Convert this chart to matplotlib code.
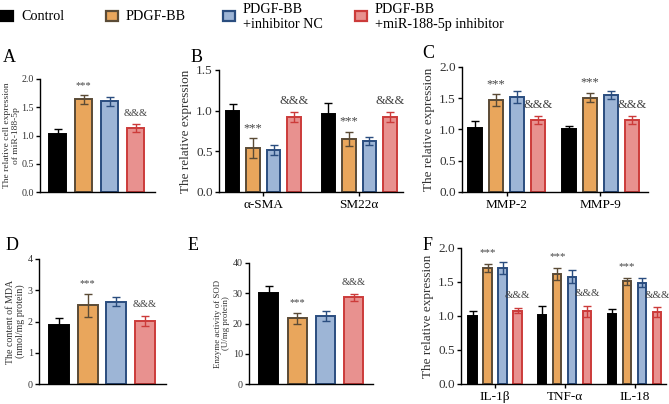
"""Six-panel bar chart: PDGF-BB / miR-188-5p inhibitor experiments."""

import matplotlib

matplotlib.use("Agg")
import matplotlib.pyplot as plt
from matplotlib.patches import Rectangle
import numpy as np

plt.rcParams["font.family"] = ["Liberation Serif", "DejaVu Serif"]

GROUPS = ["Control", "PDGF-BB", "PDGF-BB\n+inhibitor NC", "PDGF-BB\n+miR-188-5p inhibitor"]
FACE = ["#000000", "#E9A65C", "#9DB5D6", "#E8918F"]
EDGE = ["#000000", "#5B4B36", "#2A4D7F", "#CC3B3A"]

# panel A: miR-188-5p
A_MEAN = [[1.02, 1.64, 1.61, 1.14]]
A_ERR = [[0.10, 0.08, 0.08, 0.07]]

# panel B: alpha-SMA, SM22alpha
B_CATS = ["α-SMA", "SM22α"]
B_MEAN = [[1.00, 0.54, 0.52, 0.92], [0.96, 0.65, 0.63, 0.92]]
B_ERR = [[0.08, 0.12, 0.06, 0.06], [0.14, 0.09, 0.05, 0.06]]

# panel C: MMP-2, MMP-9
C_CATS = ["MMP-2", "MMP-9"]
C_MEAN = [[1.02, 1.47, 1.52, 1.15], [1.00, 1.51, 1.55, 1.15]]
C_ERR = [[0.11, 0.09, 0.09, 0.06], [0.06, 0.07, 0.06, 0.07]]

# panel D: MDA
D_MEAN = [[1.89, 2.52, 2.63, 2.02]]
D_ERR = [[0.21, 0.36, 0.14, 0.17]]

# panel E: SOD
E_MEAN = [[30.2, 21.8, 22.4, 28.6]]
E_ERR = [[2.2, 1.8, 1.7, 1.3]]

# panel F: IL-1beta, TNF-alpha, IL-18
F_CATS = ["IL-1β", "TNF-α", "IL-18"]
F_MEAN = [[1.00, 1.70, 1.71, 1.08], [1.01, 1.62, 1.58, 1.07], [1.03, 1.51, 1.49, 1.06]]
F_ERR = [[0.08, 0.06, 0.09, 0.04], [0.14, 0.09, 0.09, 0.08], [0.07, 0.05, 0.07, 0.07]]

TEXT_GREY = "#333333"


def draw_panel(fig, rect, means, errs, cats, ylim, yticks, ylabel, letter, letter_xy,
               width=0.65, gap=0.67, margins=(0.67, 0.7), tick_fs=7.5, label_fs=7.2,
               mark_fs=8, labelpad=3):
    ax = fig.add_axes(rect)
    means = np.asarray(means)
    errs = np.asarray(errs)
    n_groups, n_bars = means.shape
    step = n_bars + gap
    centers = []
    for g in range(n_groups):
        x = g * step + np.arange(n_bars)
        centers.append(x.mean())
        for i in range(n_bars):
            ax.errorbar(x[i], means[g, i], yerr=errs[g, i], fmt="none",
                        ecolor=EDGE[i], elinewidth=1.0, capsize=3, capthick=1.0, zorder=3)
            ax.bar(x[i], means[g, i], width=width, color=FACE[i], edgecolor=EDGE[i],
                   linewidth=1.4, zorder=2)
        off = 0.085 * ylim[1]
        ax.text(x[1], means[g, 1] + errs[g, 1] + off, "***", ha="center", va="center",
                fontsize=mark_fs, color="#444444")
        ax.text(x[3], means[g, 3] + errs[g, 3] + off * 1.05, "&&&", ha="center",
                va="center", fontsize=mark_fs, color="#444444")
    last = (n_groups - 1) * step + n_bars - 1
    ax.set_xlim(-margins[0], last + margins[1])
    ax.set_ylim(*ylim)
    ax.set_yticks(yticks)
    ax.spines["top"].set_visible(False)
    ax.spines["right"].set_visible(False)
    ax.spines["left"].set_linewidth(1.0)
    ax.spines["bottom"].set_linewidth(1.0)
    if cats:
        ax.set_xticks(centers)
        ax.set_xticklabels(cats, fontsize=tick_fs)
        ax.tick_params(axis="x", length=3, width=1.0, pad=2)
    else:
        ax.set_xticks([])
    ax.tick_params(axis="y", labelsize=tick_fs, length=3, width=1.0, pad=1.5,
                   labelcolor=TEXT_GREY)
    ax.set_ylabel(ylabel, fontsize=label_fs, color=TEXT_GREY, labelpad=labelpad,
                  linespacing=1.05)
    fig.text(letter_xy[0], letter_xy[1], letter, fontsize=13, ha="left", va="center")
    return ax


def yfmt(ax, fmt):
    ax.set_yticklabels([fmt.format(t) for t in ax.get_yticks()])


fig = plt.figure(figsize=(6.69, 4.04), dpi=100)
W, H = 669.0, 404.0


def rect(x0, x1, y0, y1):
    return [x0 / W, 1 - y1 / H, (x1 - x0) / W, (y1 - y0) / H]


ax = draw_panel(fig, rect(40, 155, 79, 192), A_MEAN, A_ERR, None, (0, 2.0),
                [0, 0.5, 1.0, 1.5, 2.0],
                "The relative cell expression\nof miR-188-5p", "A", (3 / W, 1 - 58 / H),
                width=0.65, margins=(0.67, 0.73), tick_fs=7.2, label_fs=6.8,
                mark_fs=7.5, labelpad=1)
yfmt(ax, "{:.1f}")

ax = draw_panel(fig, rect(219, 403, 70, 192), B_MEAN, B_ERR, B_CATS, (0, 1.5),
                [0, 0.5, 1.0, 1.5], "The relative expression", "B",
                (191 / W, 1 - 57 / H), width=0.65, gap=0.67, margins=(0.66, 0.64),
                tick_fs=9.5, label_fs=9.5, mark_fs=9)
yfmt(ax, "{:.1f}")

ax = draw_panel(fig, rect(462, 648, 67, 192), C_MEAN, C_ERR, C_CATS, (0, 2.0),
                [0, 0.5, 1.0, 1.5, 2.0], "The relative expression", "C",
                (422 / W, 1 - 53 / H), width=0.67, gap=0.45, margins=(0.63, 0.78),
                tick_fs=9.5, label_fs=9.5, mark_fs=9)
yfmt(ax, "{:.1f}")

draw_panel(fig, rect(39, 166, 259, 384), D_MEAN, D_ERR, None, (0, 4),
           [0, 1, 2, 3, 4], "The content of MDA\n(nmol/mg protein)", "D",
           (6 / W, 1 - 246 / H), width=0.7, margins=(0.71, 0.74), tick_fs=7.2,
           label_fs=7.2, mark_fs=7.5, labelpad=2)

draw_panel(fig, rect(249, 373, 263, 384), E_MEAN, E_ERR, None, (0, 40),
           [0, 10, 20, 30, 40], "Enzyme activity of SOD\n(U/mg protein)", "E",
           (188 / W, 1 - 246 / H), width=0.67, margins=(0.7, 0.67), tick_fs=7.2,
           label_fs=6.4, mark_fs=7.5, labelpad=2)

ax = draw_panel(fig, rect(461, 666, 248, 384), F_MEAN, F_ERR, F_CATS, (0, 2.0),
                [0, 0.5, 1.0, 1.5, 2.0], "The relative expression", "F",
                (423 / W, 1 - 246 / H), width=0.56, gap=0.65, margins=(0.77, 0.6),
                tick_fs=9.5, label_fs=9.5, mark_fs=7.8)
yfmt(ax, "{:.1f}")

# legend across the top
legend_x = [1, 106, 223, 355]
for i, name in enumerate(GROUPS):
    x0 = legend_x[i]
    fig.patches.append(Rectangle((x0 / W, 1 - 21 / H), 12 / W, 10 / H,
                                 transform=fig.transFigure, facecolor=FACE[i],
                                 edgecolor=EDGE[i], linewidth=1.6))
    fig.text((x0 + 20) / W, 1 - 17 / H, name, fontsize=10.2, ha="left", va="center",
             linespacing=1.25)

fig.savefig("out.png", dpi=100)
